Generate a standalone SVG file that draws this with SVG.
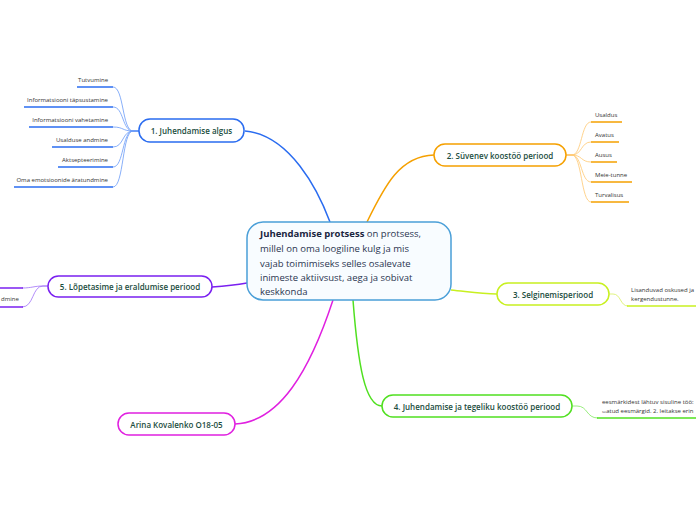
<svg xmlns="http://www.w3.org/2000/svg" width="696" height="520" viewBox="0 0 696 520">
<style>
.nt{font-family:"Open Sans","Noto Sans",sans-serif;font-size:8px;font-weight:600;fill:#1b4d3e;text-anchor:middle;dominant-baseline:central}
.lt{font-family:"Open Sans","Noto Sans",sans-serif;font-size:6px;fill:#333}
.ct{font-family:"Open Sans","Noto Sans",sans-serif;font-size:9.5px;fill:#2a3550}
.box{fill:#fff;stroke-width:1.5}
.c{fill:none}
</style>
<rect width="696" height="520" fill="#fff"/>
<g id="connectors">
  <path class="c" d="M245,131 C290,135 318,190 330,222" stroke="#2a6cf0" stroke-width="1.5"/>
  <path class="c" d="M367,222 C385,185 400,156 434,155" stroke="#f5a000" stroke-width="1.5"/>
  <path class="c" d="M451,290 C470,292 480,294 497,294" stroke="#c8f020" stroke-width="1.5"/>
  <path class="c" d="M353,300 C358,365 365,406 382,406" stroke="#50e020" stroke-width="1.5"/>
  <path class="c" d="M333,300 C310,370 280,422 235,424" stroke="#e020e0" stroke-width="1.5"/>
  <path class="c" d="M247,283 C235,285 225,286 212,287" stroke="#7a20f0" stroke-width="1.5"/>
  <g stroke="#6a9af8" stroke-width="0.8" fill="none">
    <path d="M139,131 L133,131 C122,131 124,87 113,87"/>
    <path d="M139,131 L133,131 C122,131 124,107 113,107"/>
    <path d="M139,131 L133,131 C122,131 124,127 113,127"/>
    <path d="M139,131 L133,131 C122,131 124,147 113,147"/>
    <path d="M139,131 L133,131 C122,131 124,167 113,167"/>
    <path d="M139,131 L133,131 C122,131 124,187 113,187"/>
  </g>
  <g stroke="#2a6cf0" stroke-width="1.5">
    <line x1="77" y1="87" x2="113" y2="87"/>
    <line x1="24" y1="107" x2="113" y2="107"/>
    <line x1="29" y1="127" x2="113" y2="127"/>
    <line x1="52" y1="147" x2="113" y2="147"/>
    <line x1="58" y1="167" x2="113" y2="167"/>
    <line x1="14" y1="187" x2="113" y2="187"/>
  </g>
  <g stroke="#ffc870" stroke-width="0.8" fill="none">
    <path d="M566,155 L572,155 C582,155 581,122 591,122"/>
    <path d="M566,155 L572,155 C582,155 581,142 591,142"/>
    <path d="M566,155 L572,155 C582,155 581,162 591,162"/>
    <path d="M566,155 L572,155 C582,155 581,182 591,182"/>
    <path d="M566,155 L572,155 C582,155 581,202 591,202"/>
  </g>
  <g stroke="#f5a000" stroke-width="1.5">
    <line x1="591" y1="122" x2="622" y2="122"/>
    <line x1="591" y1="142" x2="619" y2="142"/>
    <line x1="591" y1="162" x2="617" y2="162"/>
    <line x1="591" y1="182" x2="632" y2="182"/>
    <line x1="591" y1="202" x2="629" y2="202"/>
  </g>
  <path class="c" d="M609,294 L613,294 C621,294 620,306 628,306" stroke="#d8f060" stroke-width="0.8"/>
  <line x1="627" y1="306" x2="696" y2="306" stroke="#c8f020" stroke-width="1.5"/>
  <path class="c" d="M572,406 L577,406 C588,406 586,418 598,418" stroke="#80e860" stroke-width="0.8"/>
  <line x1="597" y1="418" x2="696" y2="418" stroke="#50e020" stroke-width="1.5"/>
  <g stroke="#a070f8" stroke-width="0.8" fill="none">
    <path d="M48,286 L43,286 C34,286 32,288 22,288"/>
    <path d="M48,286 L43,286 C32,286 34,307 22,307"/>
  </g>
  <g stroke="#7a20f0" stroke-width="1.5">
    <line x1="0" y1="288" x2="23" y2="288"/>
    <line x1="0" y1="307" x2="23" y2="307"/>
  </g>
</g>
<g id="center">
  <rect x="247" y="222" width="204" height="78" rx="16" fill="#f8fcff" stroke="#4a9fd8" stroke-width="1.5"/>
  <text class="ct" x="260" y="237"><tspan font-weight="bold" fill="#1a2540">Juhendamise protsess</tspan> on protsess,</text>
  <text class="ct" x="260" y="252">millel on oma loogiline kulg ja mis</text>
  <text class="ct" x="260" y="267">vajab toimimiseks selles osalevate</text>
  <text class="ct" x="260" y="281">inimeste aktiivsust, aega ja sobivat</text>
  <text class="ct" x="260" y="295">keskkonda</text>
</g>
<g id="n1">
  <rect class="box" x="139" y="119" width="105" height="23" rx="11" stroke="#2a6cf0"/>
  <text class="nt" x="191.5" y="130.5">1. Juhendamise algus</text>
</g>
<g id="n1-leaves">
  <text class="lt" x="108" y="82" text-anchor="end">Tutvumine</text>
  <text class="lt" x="108" y="102" text-anchor="end">Informatsiooni täpsustamine</text>
  <text class="lt" x="108" y="122" text-anchor="end">Informatsiooni vahetamine</text>
  <text class="lt" x="108" y="142" text-anchor="end">Usalduse andmine</text>
  <text class="lt" x="108" y="162" text-anchor="end">Aktsepteerimine</text>
  <text class="lt" x="108" y="182" text-anchor="end">Oma emotsioonide äratundmine</text>
</g>
<g id="n2">
  <rect class="box" x="434" y="144" width="132" height="22" rx="11" stroke="#f5a000"/>
  <text class="nt" x="500" y="155">2. Süvenev koostöö periood</text>
</g>
<g id="n2-leaves">
  <text class="lt" x="595" y="117">Usaldus</text>
  <text class="lt" x="595" y="137">Avatus</text>
  <text class="lt" x="595" y="157">Ausus</text>
  <text class="lt" x="595" y="177">Meie-tunne</text>
  <text class="lt" x="595" y="197">Turvalisus</text>
</g>
<g id="n3">
  <rect class="box" x="497" y="283" width="112" height="22" rx="11" stroke="#c8f020"/>
  <text class="nt" x="553" y="294">3. Selginemisperiood</text>
</g>
<g id="n3-leaf">
  <text class="lt" x="631" y="292">Lisanduvad oskused ja</text>
  <text class="lt" x="631" y="301">kergendustunne.</text>
</g>
<g id="n4">
  <rect class="box" x="382" y="395" width="190" height="22" rx="11" stroke="#50e020"/>
  <text class="nt" x="477" y="406">4. Juhendamise ja tegeliku koostöö periood</text>
</g>
<g id="n4-leaf">
  <text class="lt" x="602" y="404">eesmärkidest lähtuv sisuline töö:</text>
  <text class="lt" x="602" y="413"><tspan font-size="4">se</tspan>atud eesmärgid. 2. leitakse erin</text>
</g>
<g id="n5">
  <rect class="box" x="48" y="276" width="164" height="21" rx="10.5" stroke="#7a20f0"/>
  <text class="nt" x="130" y="286.5">5. Lõpetasime ja eraldumise periood</text>
</g>
<g id="n5-leaf">
  <text class="lt" x="1" y="301">dmine</text>
</g>
<g id="n6">
  <rect class="box" x="118" y="413" width="117" height="22" rx="11" stroke="#e020e0"/>
  <text class="nt" x="176.5" y="424">Arina Kovalenko O18-05</text>
</g>
</svg>
